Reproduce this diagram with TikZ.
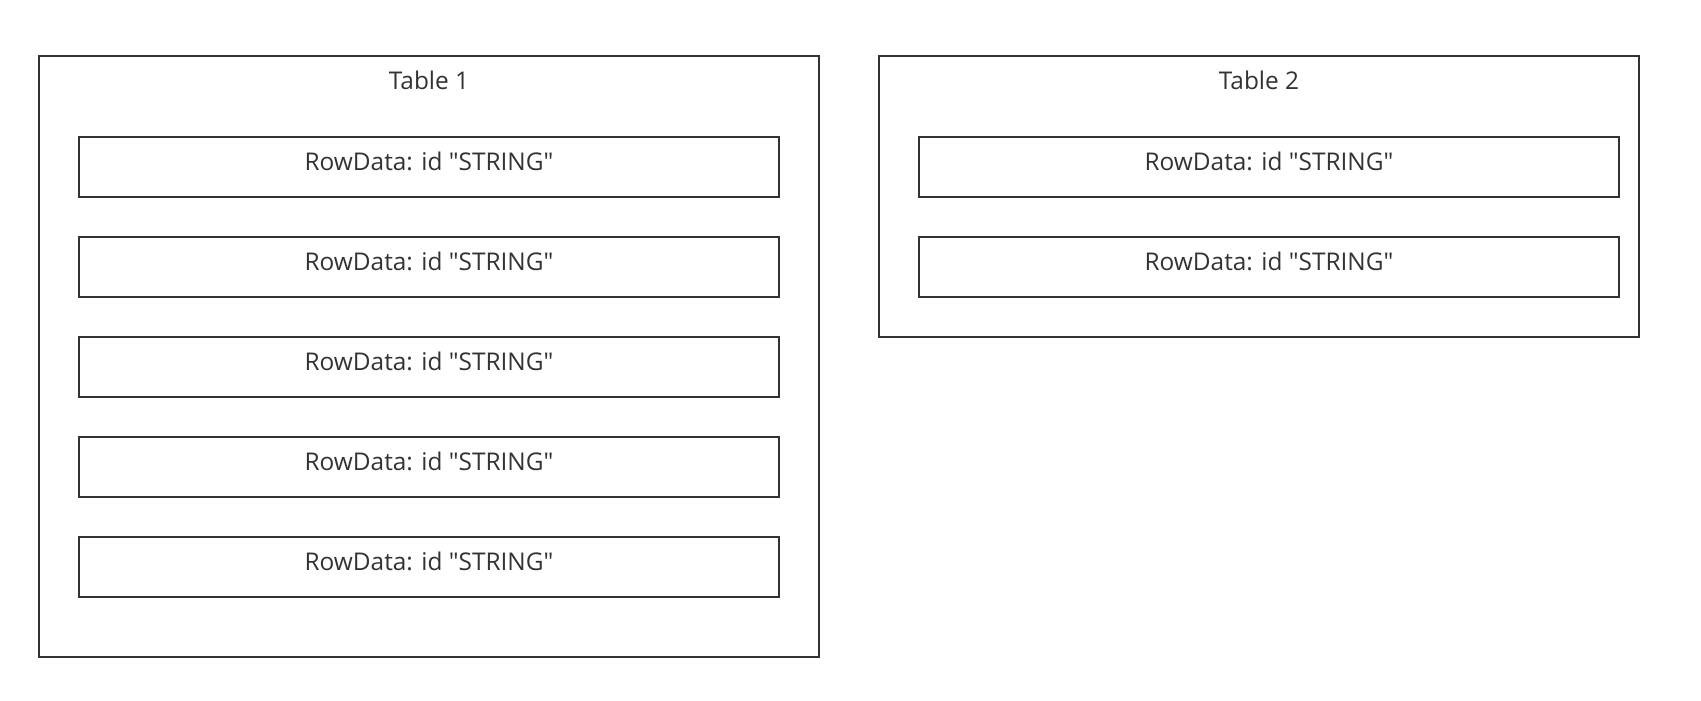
\documentclass[tikz,border=0pt]{standalone}
\usepackage{fontspec}
\setmainfont{Open Sans}[Ligatures=TeXOff]
\definecolor{linec}{HTML}{333333}
\definecolor{textc}{HTML}{333333}
\begin{document}
\begin{tikzpicture}[x=1pt,y=-1pt,
  tablebox/.style={draw=linec, line width=1.8pt, rectangle, inner sep=0pt},
  rowbox/.style={draw=linec, line width=1.8pt, rectangle, inner sep=0pt,
    minimum width=700pt, minimum height=60pt, text=textc,
    font=\fontsize{24.4}{28}\selectfont, text height=18pt, text depth=12pt},
  titletext/.style={anchor=base, inner sep=0pt, text=textc, font=\fontsize{24.4}{28}\selectfont}
]
\useasboundingbox (0,0) rectangle (1701,701);
\fill[white] (0,0) rectangle (1701,701);
% Table 1
\node[tablebox, minimum width=780pt, minimum height=601pt] (tab1) at (429,356.5) {};
\node[titletext] (t1) at (429,90) {Table 1};
\foreach \i/\y in {1/167,2/267,3/367,4/467,5/567}{
  \node[rowbox] (a\i) at (429,\y) {RowData: id "STRING"};
}
% Table 2
\node[tablebox, minimum width=760pt, minimum height=281pt] (tab2) at (1259,196.5) {};
\node[titletext] (t2) at (1259,90) {Table 2};
\foreach \i/\y in {1/167,2/267}{
  \node[rowbox] (b\i) at (1269,\y) {RowData: id "STRING"};
}
\end{tikzpicture}
\end{document}
